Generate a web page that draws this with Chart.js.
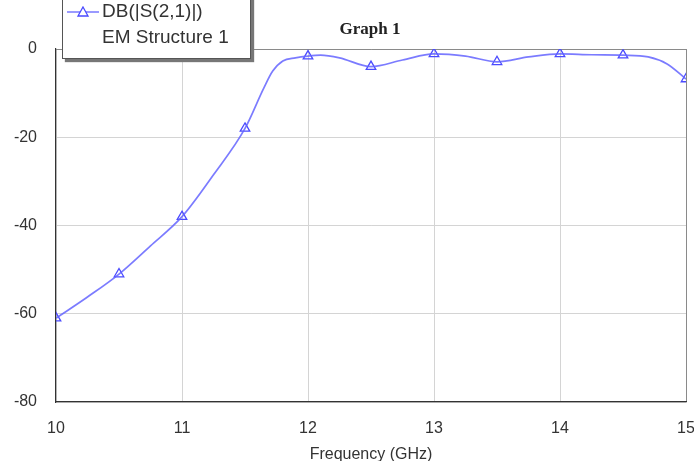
<!DOCTYPE html>
<html>
<head>
<meta charset="utf-8">
<script src="https://cdn.jsdelivr.net/npm/chart.js@4/dist/chart.umd.min.js"></script>
<style>
  body { margin: 0; background: #fff; }
  .wrap { position: relative; width: 694px; height: 461px; overflow: hidden; }
  .title {
    position: absolute; left: 300px; width: 140px; top: 19px;
    text-align: center; font-family: "Liberation Serif", "Times New Roman", serif;
    font-weight: bold; font-size: 17px; color: #222;
  }
  .legend {
    position: absolute; left: 62px; top: -12px; width: 187px; height: 69px;
    background: #fff; border: 1px solid #555; box-shadow: 3px 3px 1px #777;
    font-family: "Liberation Sans", Arial, sans-serif; font-size: 19px; color: #333;
  }
  .legend .row1 { position: absolute; left: 4px; top: 11px; white-space: nowrap; }
  .legend .row2 { position: absolute; left: 39px; top: 37px; white-space: nowrap; }
  .legend svg { vertical-align: middle; margin-right: 3px; }
</style>
</head>
<body>
<div class="wrap">
  <canvas id="chart" width="694" height="461"></canvas>
  <div class="title">Graph 1</div>
  <div class="legend">
    <div class="row1"><svg width="32" height="12"><line x1="0" y1="6" x2="32" y2="6" stroke="#7878ff" stroke-width="1.5"/><polygon points="16,1 21,10 11,10" fill="#fff" stroke="#4a4aff" stroke-width="1.3"/></svg>DB(|S(2,1)|)</div>
    <div class="row2">EM Structure 1</div>
  </div>
</div>
<script>
// curve (GHz, dB)
const freqs = [10, 10.25, 10.5, 10.75, 11, 11.25, 11.5, 11.65, 11.72, 11.8, 11.9, 12, 12.1, 12.25, 12.5, 12.75, 13, 13.25, 13.5, 13.75, 14, 14.25, 14.5, 14.7, 14.85, 15];
const s21 = [-61, -56.2, -51, -44.6, -38, -28.5, -18, -8.8, -5, -2.7, -2.0, -1.6, -1.4, -2.0, -4.0, -2.5, -1.1, -1.6, -2.9, -1.8, -1.1, -1.3, -1.4, -1.8, -3.4, -6.8];
// marker positions
const markerFreqs = [10, 10.5, 11, 11.5, 12, 12.5, 13, 13.5, 14, 14.5, 15];
const markerVals = [-61, -51, -38, -18, -1.6, -4.0, -1.1, -2.9, -1.1, -1.4, -6.8];
const xTicks = [10, 11, 12, 13, 14, 15];
const yTicks = [0, -20, -40, -60, -80];

const lineColor = 'rgba(100, 100, 255, 0.85)';

new Chart(document.getElementById('chart').getContext('2d'), {
  type: 'scatter',
  data: {
    datasets: [
      {
        label: 'DB(|S(2,1)|)',
        data: freqs.map((f, i) => ({ x: f, y: s21[i] })),
        showLine: true,
        borderColor: lineColor,
        borderWidth: 1.7,
        pointRadius: 0,
        cubicInterpolationMode: 'monotone'
      },
      {
        label: 'markers',
        data: markerFreqs.map((f, i) => ({ x: f, y: markerVals[i] })),
        showLine: false,
        pointStyle: 'triangle',
        pointRadius: 5.5,
        borderColor: '#4a4aff',
        backgroundColor: 'rgba(255,255,255,0)',
        borderWidth: 1.3
      }
    ]
  },
  options: {
    responsive: false,
    animation: false,
    layout: { padding: { top: 49, right: 8, left: 0, bottom: 0 } },
    plugins: { legend: { display: false }, title: { display: false }, tooltip: { enabled: false } },
    scales: {
      x: {
        type: 'linear', min: 10, max: 15,
        afterFit: (s) => { s.height = 59; s.paddingLeft = 0; s.paddingRight = 0; },
        afterBuildTicks: (s) => { s.ticks = xTicks.map(v => ({ value: v })); },
        grid: {
          drawTicks: false,
          color: (c) => c.tick && c.tick.value === 15 ? '#8a8a8a' : '#d4d4d4'
        },
        border: { color: '#333', width: 1.2 },
        ticks: { padding: 17, color: '#333', font: { family: 'Liberation Sans, Arial', size: 16 } },
        title: {
          display: true, text: 'Frequency (GHz)', color: '#333',
          font: { family: 'Liberation Sans, Arial', size: 16 }, padding: { top: 4, bottom: -3 }
        }
      },
      y: {
        min: -80, max: 0,
        afterFit: (s) => { s.width = 56; s.paddingTop = 0; s.paddingBottom = 0; },
        afterBuildTicks: (s) => { s.ticks = yTicks.map(v => ({ value: v })); },
        grid: {
          drawTicks: false,
          color: (c) => c.tick && c.tick.value === 0 ? '#8a8a8a' : '#d4d4d4'
        },
        border: { color: '#333', width: 1.2 },
        ticks: { padding: 19, color: '#333', font: { family: 'Liberation Sans, Arial', size: 16 } }
      }
    }
  }
});
</script>
</body>
</html>
